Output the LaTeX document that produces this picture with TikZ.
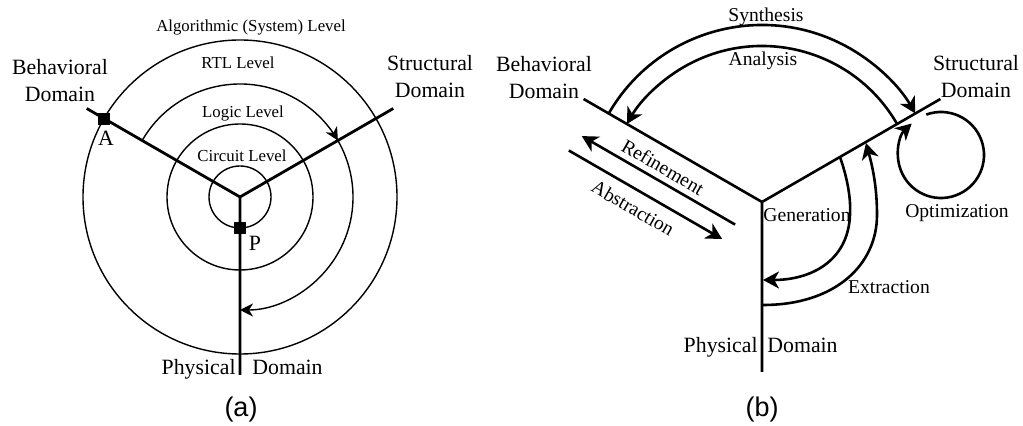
\documentclass[tikz,border=0pt]{standalone}
\usepackage{fontspec}
\setmainfont{Liberation Serif}
\newfontfamily\capfont{Liberation Sans}
\usetikzlibrary{arrows.meta,decorations.markings,calc}

\begin{document}
\begin{tikzpicture}[x=0.5pt,y=-0.5pt,
  axisline/.style={line width=1.4pt},
  ring/.style={line width=0.7pt},
  flow/.style={line width=1.3pt},
  smallhead/.tip={Stealth[length=6.5pt,width=6.5pt,inset=2pt]},
  bighead/.tip={Stealth[length=8pt,width=8.5pt,inset=2.4pt]},
  domlabel/.style={font=\fontsize{10.9pt}{13.5pt}\selectfont, align=center, inner sep=0pt},
  lvllabel/.style={font=\fontsize{8.4pt}{10pt}\selectfont, inner sep=0pt},
  actlabel/.style={font=\fontsize{9.8pt}{12pt}\selectfont, inner sep=0pt},
  captext/.style={font=\capfont\fontsize{13.5pt}{16pt}\selectfont, inner sep=0pt},
  marker/.style={draw, fill=black, minimum size=5.5pt, inner sep=0pt, line width=0.4pt}]
\useasboundingbox (0,0) rectangle (1023,426);

% ===================== (a) levels of abstraction =====================
\coordinate (Oa) at (240,197);
\coordinate (Ba) at ($(Oa)+(210:177)$);
\coordinate (Sa) at ($(Oa)+(330:177)$);
\coordinate (Pa) at (240,375);

\draw[ring] (Oa) circle[radius=157];
\draw[ring] (Oa) circle[radius=73];
\draw[ring] (Oa) circle[radius=31];

% RTL arc from the behavioral axis round to the physical axis
\coordinate (rtlS) at ($(Oa)+(210:113)$);
\draw[ring, -{smallhead},
  postaction={decorate},
  decoration={markings, mark=at position 0.5 with {\arrow{smallhead}}}]
  (rtlS) arc[start angle=210, end angle=450, radius=113];

\draw[axisline] (Ba) -- (Oa) -- (Sa) (Oa) -- (Pa);

\node[marker] (A) at ($(Oa)+(210:157)$) {};
\node[marker] (P) at ($(Oa)+(90:31)$) {};
\node[domlabel] (Alab) at (106,138) {A};
\node[domlabel] (Plab) at (255,243) {P};

\node[lvllabel] (alg) at (251,27) {Algorithmic (System) Level};
\node[lvllabel] (rtl) at (238,63) {RTL Level};
\node[lvllabel] (logic) at (243,113) {Logic Level};
\node[lvllabel] (circ) at (242,156) {Circuit Level};

\node[domlabel] (behA) at (60,81) {Behavioral\\Domain};
\node[domlabel] (strA) at (430,77) {Structural\\Domain};
\node[domlabel, anchor=base east] (phyA1) at (236,375) {Physical};
\node[domlabel, anchor=base west] (phyA2) at (252,375) {Domain};

\node[captext, anchor=base] (capA) at (241,417) {(a)};

% ===================== (b) design transformations =====================
\coordinate (Ob) at (762,202);
\coordinate (Bb) at ($(Ob)+(210:206)$);
\coordinate (Sb) at ($(Ob)+(330:206)$);
\coordinate (Pb) at (762,372);

\draw[flow] (Bb) -- (Ob) -- (Sb) (Ob) -- (Pb);

% synthesis / analysis
\coordinate (synS) at ($(Ob)+(210:177)$);
\coordinate (anaS) at ($(Ob)+(330:156)$);
\draw[flow, -{bighead}] (synS) arc[start angle=210, end angle=330, radius=177];
\draw[flow, -{bighead}] (anaS) arc[start angle=330, end angle=210, radius=156];

% refinement / abstraction
\coordinate (refS) at ($(Ob)+(210:12)+(120:33)$);
\coordinate (refE) at ($(Ob)+(210:189)+(120:33)$);
\coordinate (absS) at ($(Ob)+(210:193)+(120:52)$);
\coordinate (absE) at ($(Ob)+(210:16)+(120:52)$);
\draw[flow, -{bighead}] (refS) -- (refE);
\draw[flow, -{bighead}] (absS) -- (absE);

% optimization loop
\coordinate (Oc) at (941,155);
\coordinate (optS) at ($(Oc)+(250:43)$);
\draw[flow, -{bighead}] (optS) arc[start angle=250, end angle=587, radius=43];

% generation / extraction
\coordinate (genS) at (840,157);
\coordinate (genM) at (850,215);
\coordinate (genE) at (763,280);
\draw[flow, -{bighead}] (genS) .. controls (848,180) and (851,200) .. (genM)
  .. controls (848,262) and (810,280) .. (genE);
\coordinate (extS) at (763,305);
\coordinate (extM) at (877,215);
\coordinate (extE) at (866,143);
\draw[flow, -{bighead}] (extS) .. controls (835,305) and (877,265) .. (extM)
  .. controls (877,185) and (872,165) .. (extE);

\node[actlabel] (syn) at (766,17) {Synthesis};
\node[actlabel] (ana) at (763,61) {Analysis};
\node[actlabel, rotate=-30] (ref) at (663,167) {Refinement};
\node[actlabel, rotate=-30] (abs) at (633,208) {Abstraction};
\node[actlabel] (gen) at (807,215) {Generation};
\node[actlabel] (ext) at (889,287) {Extraction};
\node[actlabel] (opt) at (957,213) {Optimization};

\node[domlabel] (behB) at (544,78) {Behavioral\\Domain};
\node[domlabel] (strB) at (976,77) {Structural\\Domain};
\node[domlabel, anchor=base east] (phyB1) at (758,353) {Physical};
\node[domlabel, anchor=base west] (phyB2) at (767,353) {Domain};

\node[captext, anchor=base] (capB) at (762,417) {(b)};
\end{tikzpicture}
\end{document}
